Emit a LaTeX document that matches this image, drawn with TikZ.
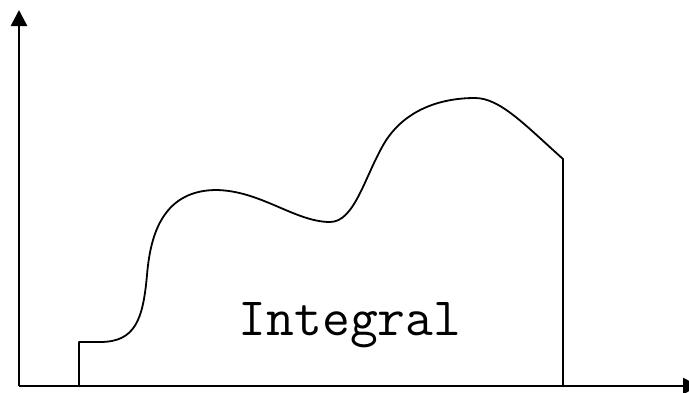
\documentclass[tikz,border=0pt]{standalone}
\usetikzlibrary{arrows.meta}
\begin{document}
\begin{tikzpicture}[x=1pt,y=-1pt,
  axis/.style={line width=2.6pt,-{Triangle[width=16pt,length=16pt]}},
  curve/.style={line width=1.8pt,line join=round},
  lbl/.style={font=\ttfamily\fontsize{54}{54}\selectfont,anchor=base,inner sep=0pt}]
\useasboundingbox (0,0) rectangle (689,392);
\clip (0,0) rectangle (689,392);
\coordinate (o) at (19,386);
\coordinate (ytip) at (19,10);
\coordinate (xtip) at (699,386);
\draw[axis] (o) -- (ytip);
\draw[axis] (o) -- (xtip);
\draw[curve] (79,386) -- (79,342) -- (100,342)
  .. controls (135,342) and (143,320) .. (147,275)
  .. controls (150,240) and (160,191) .. (215,190)
  .. controls (260,190) and (295,222) .. (330,222)
  .. controls (355,222) and (365,175) .. (385,142)
  .. controls (405,110) and (440,98) .. (475,98)
  .. controls (500,98) and (525,125) .. (563,159)
  -- (563,386);
\node[lbl] (integral) at (350,335) {Integral};
\end{tikzpicture}
\end{document}
